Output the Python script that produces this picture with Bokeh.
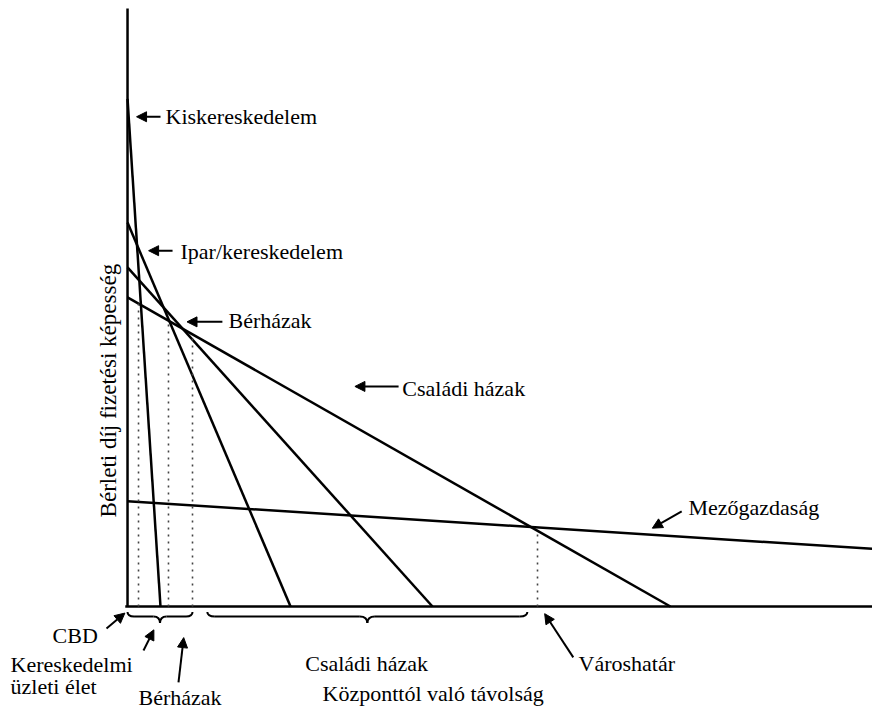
from bokeh.plotting import figure
from bokeh.models import Range1d, Arrow, NormalHead
from bokeh.core.properties import value
from bokeh.embed import file_html
from bokeh.resources import INLINE
import numpy as np

# ---- data ----
land_uses = ["Kiskereskedelem", "Ipar/kereskedelem", "Bérházak", "Családi házak", "Mezőgazdaság"]
rent_at_center = [84.9, 64.2, 56.7, 51.7, 17.6]        # bid rent at distance 0
zero_rent_distance = [4.38, 21.65, 40.5, 72.1, 219.0]  # distance where bid rent reaches 0
zone_boundaries = [1.46, 5.44, 8.63, 54.45]            # dotted boundaries (distance)
brace_spans = [(0.0, 8.63), (10.6, 53.1)]
x_axis_label = "Központtól való távolság"
y_axis_label = "Bérleti díj fizetési képesség"
x_max, y_max = 100.0, 100.0

FONT = value("Liberation Serif")
FS = "22px"

p = figure(width=872, height=710, x_range=Range1d(-16.87, 98.94), y_range=Range1d(-17.39, 101.34),
           output_backend="svg", toolbar_location=None, min_border=0,
           x_axis_location=None, y_axis_location=None)
p.grid.visible = False
p.outline_line_color = None
p.background_fill_color = "white"

# axes
p.line([0, 0], [0, y_max], line_color="black", line_width=2.5)
p.line([-0.3, x_max], [0, 0], line_color="black", line_width=2.5)

def rent(i, d):
    return rent_at_center[i] * (1 - d / zero_rent_distance[i])

# bid-rent lines
for i in range(len(land_uses)):
    x_end = min(zero_rent_distance[i], x_max)
    p.line([0, x_end], [rent_at_center[i], rent(i, x_end)], line_color="black", line_width=2.5)

# dotted zone boundaries (up to the family-house line)
for b in zone_boundaries:
    p.line([b, b], [0, rent(3, b)], line_color="#444444", line_width=1.6, line_dash="2 5")

# braces under the axis
top, mid, bot = -0.9, -1.65, -2.75
for (a, b) in brace_spans:
    tip = (a + b) / 2
    w = min(1.0, (b - a) / 10)
    p.quadratic(x0=[a, tip - w, tip + w, b - w], y0=[top, mid, mid, mid],
                x1=[a + w, tip, tip, b], y1=[mid, bot, bot, top],
                cx=[a, tip, tip, b], cy=[mid, mid, mid, mid],
                line_color="black", line_width=2)
    p.segment(x0=[a + w, tip + w], y0=[mid, mid], x1=[tip - w, b - w], y1=[mid, mid],
              line_color="black", line_width=2)

# labels
lab_x = [5.05, 7.04, 13.41, 36.5, 74.5, 59.9, -9.96, -15.54, -15.54, 1.46, 23.6, 25.9]
lab_y = [81.9, 59.4, 47.8, 36.5, 16.6, -9.5, -4.85, -9.7, -13.4, -15.2, -9.5, -14.6]
lab_t = [land_uses[0], land_uses[1], land_uses[2], land_uses[3], land_uses[4],
         "Városhatár", "CBD", "Kereskedelmi", "üzleti élet", "Bérházak", "Családi házak", x_axis_label]
p.text(x=lab_x, y=lab_y, text=lab_t, text_font=FONT, text_font_size=FS,
       text_baseline="middle", text_align="left", text_color="black")
p.text(x=[-2.52], y=[36.1], text=[y_axis_label], angle=np.pi / 2, text_font=FONT,
       text_font_size="23px", text_baseline="middle", text_align="center", text_color="black")

# arrows: (x_start, y_start, x_end, y_end)
arrows = [
    (4.38, 81.9, 1.20, 81.9),
    (5.98, 59.5, 2.80, 59.5),
    (12.6, 47.6, 7.9, 47.6),
    (36.0, 36.8, 30.2, 36.8),
    (73.6, 15.9, 69.7, 13.1),
    (59.2, -8.5, 55.4, -1.2),
    (-2.79, -3.68, -0.35, -1.1),
    (2.12, -7.36, 3.50, -3.9),
    (6.77, -12.7, 7.46, -5.2),
]
for xs, ys, xe, ye in arrows:
    p.add_layout(Arrow(end=NormalHead(size=10, line_color="black", fill_color="black", line_width=1),
                       x_start=xs, y_start=ys, x_end=xe, y_end=ye,
                       line_color="black", line_width=2))

open("out.html", "w").write(file_html(p, INLINE))
